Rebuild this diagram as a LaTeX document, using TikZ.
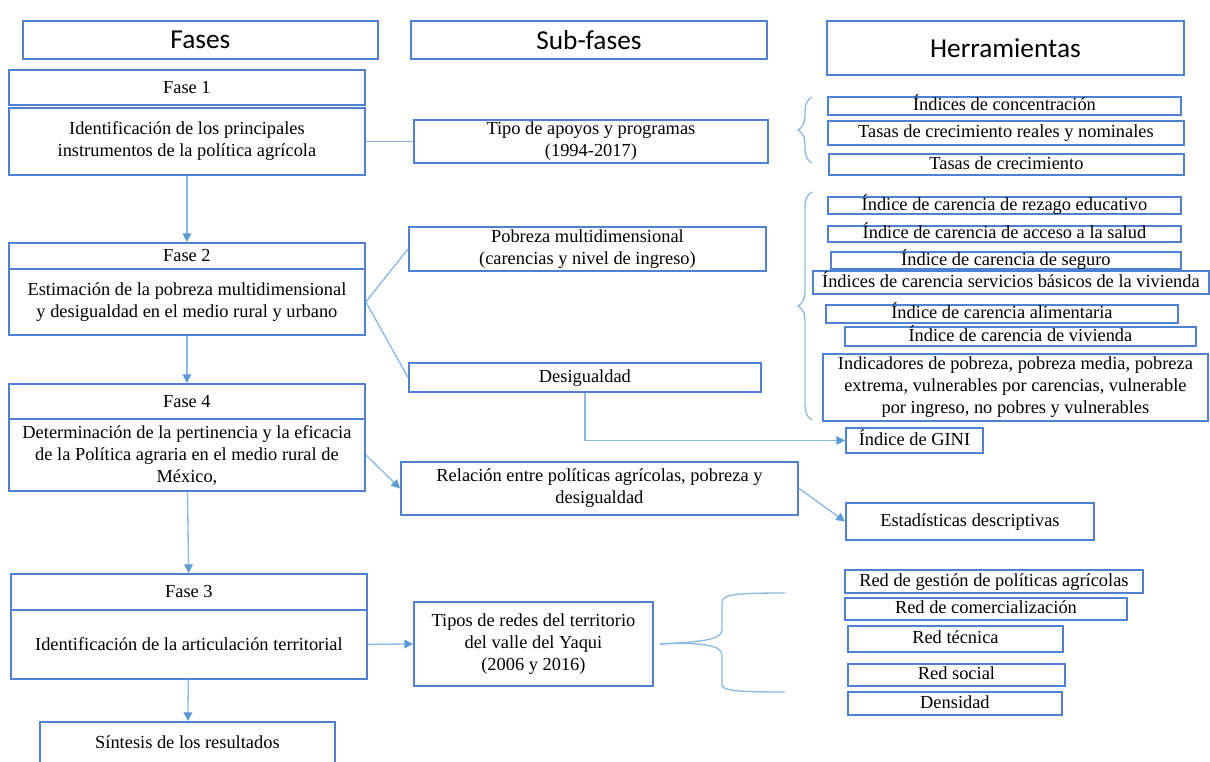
\documentclass[tikz,border=0pt]{standalone}
\usepackage{fontspec}
\setmainfont{Liberation Serif}
\newfontfamily\hdfont{Carlito}
\usetikzlibrary{arrows.meta, decorations.pathreplacing}

\definecolor{boxc}{RGB}{79,129,210}
\definecolor{lnkc}{RGB}{140,185,228}
\definecolor{tipc}{RGB}{91,155,213}

\tikzset{
  bx/.style 2 args={draw=boxc, line width=1.4pt, anchor=north west, inner sep=0pt, align=center,
    minimum width=#1*0.75pt, minimum height=#2*0.75pt},
  oneline/.style={text height=9pt, text depth=2pt},
  hd/.style={font=\hdfont\fontsize{20.5}{24}\selectfont},
  lnk/.style={draw=lnkc, line width=1pt},
  arr/.style={lnk, -{Triangle[length=6.5pt, width=6.5pt, color=tipc]}},
  brc/.style={lnk, decorate, decoration={brace, amplitude=10.5pt}},
}

\begin{document}
\begin{tikzpicture}[x=0.75pt,y=0.75pt,yscale=-1,xscale=1, font=\fontsize{13.8}{16.5}\selectfont]
\useasboundingbox (0,0) rectangle (1210,761);

% Headers
\node (hfas) [bx={355}{38}, hd] at (22,20) {Fases};
\node (hsub) [bx={356}{38}, hd] at (410,20) {Sub-fases};
\node (hher) [bx={357}{54}, hd] at (826,20) {Herramientas};

% Fases
\node (f1h) [bx={356}{35}] at (8,69) {Fase 1};
\node (f1b) [bx={356}{67}] at (8,107) {Identificación de los principales\\instrumentos de la política agrícola};
\node (f2h) [bx={356}{26}] at (8,242) {Fase 2};
\node (f2b) [bx={356}{66}] at (8,268) {Estimación de la pobreza multidimensional\\y desigualdad en el medio rural y urbano};
\node (f4h) [bx={356}{35}] at (8,383) {Fase 4};
\node (f4b) [bx={356}{72}] at (8,418) {Determinación de la pertinencia y la eficacia\\de la Política agraria en el medio rural de\\México,};
\node (f3h) [bx={356}{36}] at (10,573) {Fase 3};
\node (f3b) [bx={356}{69}] at (10,609) {Identificación de la articulación territorial};
\node (sint) [bx={295}{44}, oneline] at (39,721) {Síntesis de los resultados};

% Sub-fases
\node (tipo) [bx={354}{43}] at (413,119) {Tipo de apoyos y programas\\(1994-2017)};
\node (pob) [bx={357}{44}] at (408,226) {Pobreza multidimensional\\(carencias y nivel de ingreso)};
\node (des) [bx={352}{29}, oneline] at (408,362) {Desigualdad};
\node (rel) [bx={397}{53}] at (400,461) {Relación entre políticas agrícolas, pobreza y\\desigualdad};
\node (tipos) [bx={239}{84}] at (413,601) {Tipos de redes del territorio\\del valle del Yaqui\\(2006 y 2016)};

% Herramientas
\node (t1) [bx={353}{18}, oneline] at (827,96) {Índices de concentración};
\node (t2) [bx={356}{24}, oneline] at (827,120) {Tasas de crecimiento reales y nominales};
\node (t3) [bx={355}{21}, oneline] at (828,153) {Tasas de crecimiento};
\node (c1) [bx={353}{17}, oneline] at (827,196) {Índice de carencia de rezago educativo};
\node (c2) [bx={353}{16}, oneline] at (827,225) {Índice de carencia de acceso a la salud};
\node (c3) [bx={350}{17}, oneline] at (830,251) {Índice de carencia de seguro};
\node (c4) [bx={396}{23}, oneline] at (812,270) {Índices de carencia servicios básicos de la vivienda};
\node (c5) [bx={352}{18}, oneline] at (825,304) {Índice de carencia alimentaria};
\node (c6) [bx={351}{19}, oneline] at (844,326) {Índice de carencia de vivienda};
\node (c7) [bx={385}{67}] at (822,353) {Indicadores de pobreza, pobreza media, pobreza\\extrema, vulnerables por carencias, vulnerable\\por ingreso, no pobres y vulnerables};
\node (gini) [bx={137}{25}, oneline] at (845,427) {Índice de GINI};
\node (est) [bx={248}{37}, oneline] at (845,502) {Estadísticas descriptivas};
\node (r1) [bx={298}{23}, oneline] at (844,569) {Red de gestión de políticas agrícolas};
\node (r2) [bx={282}{22}, oneline] at (844,597) {Red de comercialización};
\node (r3) [bx={215}{26}, oneline] at (847,625) {Red técnica};
\node (r4) [bx={217}{22}, oneline] at (847,663) {Red social};
\node (r5) [bx={214}{23}, oneline] at (847,691) {Densidad};

% Connectors
\draw [arr] (f1b) -- (f2h);
\draw [arr] (f2b) -- (f4h);
\draw [arr] (f4b) -- (f3h);
\draw [arr] (f3b) -- (sint);
\draw [lnk] (f1b) -- (tipo);
\draw [lnk] (f2b.east) -- (pob.west);
\draw [lnk] (f2b.east) -- (des.west);
\draw [arr] (f4b.east) -- (rel.west);
\draw [arr] (rel.east) -- (est.west);
\draw [arr] (des.south) |- (gini.west);
\draw [arr] (f3b.east) -- (tipos.west);

% Braces
\coordinate (bt) at ([xshift=4.5pt]tipos.east);
\draw [lnk] (bt) .. controls (700,642) and (722,640) .. (722,630) -- (722,603) .. controls (722,595) and (730,593) .. (785,593);
\draw [lnk] (bt) .. controls (700,642) and (722,645) .. (722,655) -- (722,684) .. controls (722,690) and (730,692) .. (785,692);
\draw [brc] (812,163) -- (812,97);
\draw [brc] (812,420) -- (812,192);

\end{tikzpicture}
\end{document}
